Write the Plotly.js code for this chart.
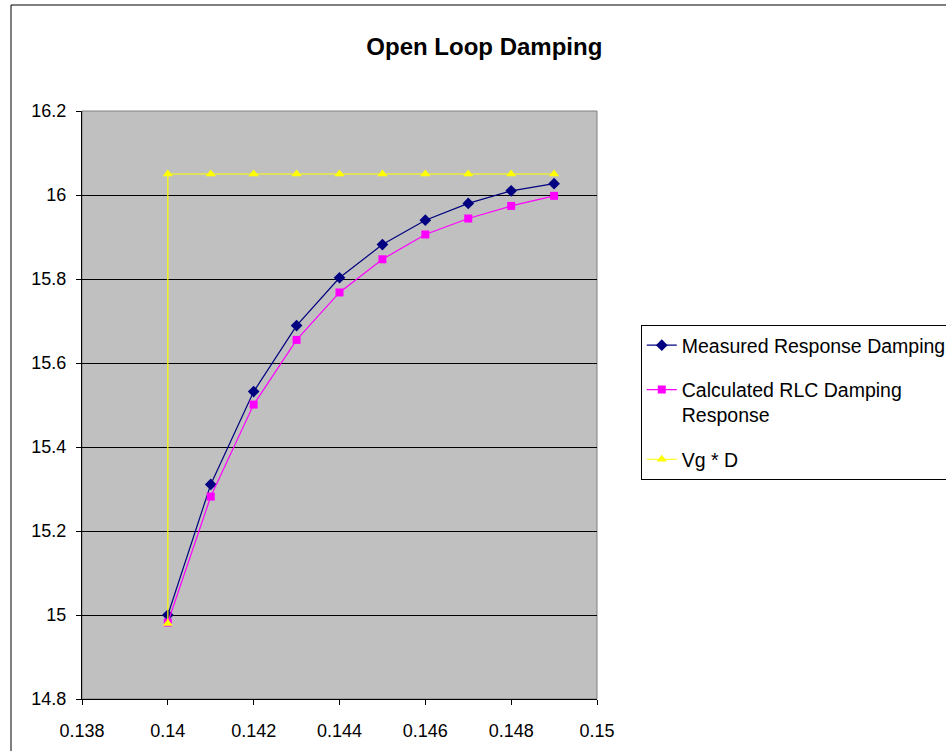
<!DOCTYPE html>
<html>
<head>
<meta charset="utf-8">
<script src="https://cdn.plot.ly/plotly-3.0.1.min.js"></script>
<style>
  html, body { margin: 0; padding: 0; background: #ffffff; }
  #chart { width: 946px; height: 751px; }
</style>
</head>
<body>
<div id="chart"></div>
<script>
// Duty-cycle sweep (x) and the resulting damping values
const dutyMeasured = [0.140, 0.141, 0.142, 0.143, 0.144, 0.145, 0.146, 0.147, 0.148, 0.149];
const measuredDamping = [15.000, 15.311, 15.532, 15.689, 15.803, 15.882, 15.940, 15.980, 16.010, 16.027];

const dutyCalculated = [0.140, 0.141, 0.142, 0.143, 0.144, 0.145, 0.146, 0.147, 0.148, 0.149];
const calculatedDamping = [14.982, 15.282, 15.501, 15.655, 15.768, 15.847, 15.906, 15.944, 15.974, 15.998];

// Vg * D reference: starts at the first sample, then steps up to the steady level
const dutyVgD = [0.140, 0.140, 0.141, 0.142, 0.143, 0.144, 0.145, 0.146, 0.147, 0.148, 0.149];
const vgD = [14.98, 16.05, 16.05, 16.05, 16.05, 16.05, 16.05, 16.05, 16.05, 16.05, 16.05];

const seriesNames = ["Measured Response Damping", "Calculated RLC Damping<br>Response", "Vg * D"];
const yTicks = [14.8, 15, 15.2, 15.4, 15.6, 15.8, 16, 16.2];
const xTicks = [0.138, 0.14, 0.142, 0.144, 0.146, 0.148, 0.15];

const font = "Arial, 'Liberation Sans', sans-serif";

const traces = [
  {
    x: dutyMeasured, y: measuredDamping, name: seriesNames[0],
    type: "scatter", mode: "lines+markers", legendgroup: "a",
    line: { color: "#000080", width: 1.2 },
    marker: { symbol: "diamond", size: 9, color: "#000080" }
  },
  {
    x: dutyCalculated, y: calculatedDamping, name: seriesNames[1],
    type: "scatter", mode: "lines+markers", legendgroup: "b",
    line: { color: "#FF00FF", width: 1.2 },
    marker: { symbol: "square", size: 8, color: "#FF00FF" }
  },
  {
    x: dutyVgD, y: vgD, name: seriesNames[2],
    type: "scatter", mode: "lines+markers", legendgroup: "c",
    line: { color: "#FFFF00", width: 1.2 },
    marker: { symbol: "triangle-up", size: 9, color: "#FFFF00" }
  }
];

const layout = {
  width: 946, height: 751,
  margin: { l: 82, r: 349, t: 111, b: 52, pad: 0, autoexpand: false },
  paper_bgcolor: "#ffffff",
  plot_bgcolor: "#C0C0C0",
  font: { family: font, size: 18, color: "#000000" },
  title: {
    text: "<b>Open Loop Damping</b>",
    font: { family: font, size: 24, color: "#000000" },
    x: 0.512, xanchor: "center", y: 0.938, yanchor: "middle"
  },
  xaxis: {
    range: [0.138, 0.15], tickvals: xTicks, ticktext: xTicks.map(String),
    showgrid: false, zeroline: false,
    showline: true, linecolor: "#000000", linewidth: 1,
    ticks: "outside", ticklen: 5, tickcolor: "#000000",
    tickfont: { family: font, size: 18 }, ticklabelstandoff: 10
  },
  yaxis: {
    range: [14.8, 16.2], tickvals: yTicks, ticktext: yTicks.map(String),
    showgrid: true, gridcolor: "#000000", gridwidth: 1, zeroline: false,
    showline: true, linecolor: "#000000", linewidth: 1,
    ticks: "outside", ticklen: 5, tickcolor: "#000000",
    tickfont: { family: font, size: 18 }, ticklabelstandoff: 6
  },
  legend: {
    x: 1.085, xanchor: "left", y: 0.636, yanchor: "top",
    bgcolor: "#ffffff", bordercolor: "#000000", borderwidth: 1,
    font: { family: font, size: 19.5, color: "#000000" },
    traceorder: "grouped", tracegroupgap: 16, valign: "top",
    itemwidth: 30
  },
  shapes: [
    // plot-area frame
    { type: "rect", xref: "paper", yref: "paper", x0: 0, x1: 1, y0: 0, y1: 1,
      line: { color: "#808080", width: 1 }, fillcolor: "rgba(0,0,0,0)", layer: "below" },
    // chart-area border
    { type: "rect", xref: "paper", yref: "paper",
      x0: -71 / 515, x1: 960 / 515 - 82 / 515, y0: -60 / 588, y1: (699 - 5) / 588,
      line: { color: "#000000", width: 1 }, fillcolor: "rgba(0,0,0,0)" }
  ],
  showlegend: true
};

Plotly.newPlot("chart", traces, layout, { displayModeBar: false, staticPlot: true });
</script>
</body>
</html>
